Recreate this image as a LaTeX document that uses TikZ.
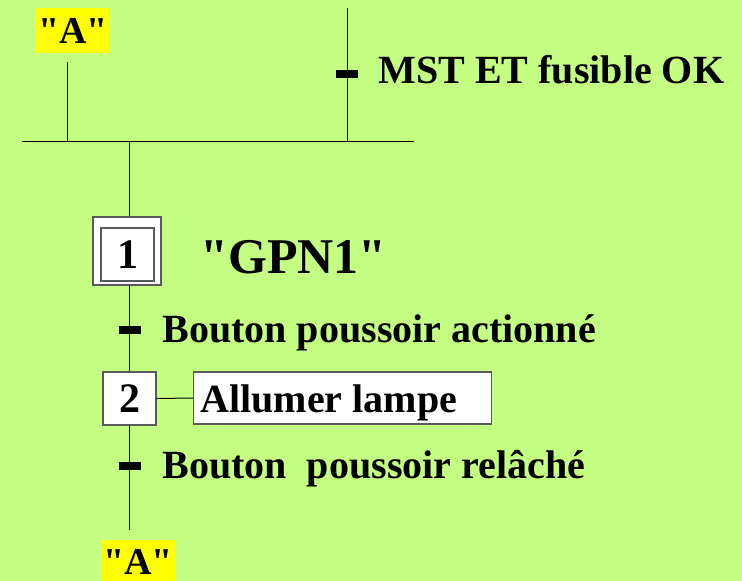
\documentclass[tikz,border=0pt]{standalone}
\usepackage{fontspec}
\setmainfont{Liberation Serif}
\usetikzlibrary{positioning}
\definecolor{grafbg}{HTML}{C4FF84}
\definecolor{boxline}{HTML}{5A5A5A}
\definecolor{repyellow}{HTML}{FFFF00}

\begin{document}
\begin{tikzpicture}[x=1pt, y=-1pt, line width=1pt,
    font=\bfseries\fontsize{40}{48}\selectfont,
    stepbox/.style={draw=boxline, fill=white, line width=1.2pt, minimum size=53pt, inner sep=0pt, font=\bfseries\fontsize{42}{48}\selectfont},
    initstep/.style={draw=boxline, fill=white, line width=1.4pt, minimum size=68pt, inner sep=0pt},
    actionbox/.style={draw=boxline, fill=white, line width=1.2pt, minimum height=52pt, text width=284pt, align=left, inner xsep=7pt, inner ysep=0pt},
    recept/.style={fill=black, minimum width=22pt, minimum height=8pt, inner sep=0pt},
    repbox/.style={fill=repyellow, minimum width=74pt, minimum height=45pt, inner sep=0pt, font=\bfseries\fontsize{38}{44}\selectfont},
    cond/.style={anchor=base west, inner sep=0pt}]
  \fill[grafbg] (0,0) rectangle (742,581);
  \useasboundingbox (0,0) rectangle (742,581);

  % convergence en OU
  \node[repbox] (Atop) at (73,30.5) {\textquotedbl A\textquotedbl};
  \coordinate (Aout) at (67,62);
  \coordinate (Ajoin) at (67,141);
  \draw (Aout) -- (Ajoin);
  \coordinate (MSTin) at (347,8);
  \coordinate (MSTjoin) at (347,141);
  \draw (MSTin) -- (MSTjoin);
  \node[recept] (t0) at (347,74) {};
  \node[cond] (c0) at (378,83) {MST ET fusible OK};
  \coordinate (syncL) at (22,141);
  \coordinate (syncR) at (414,141);
  \draw (syncL) -- (syncR);
  \coordinate (syncOut) at (129,141);

  % etapes
  \node[initstep] (s1) at (127,251) {};
  \node[stepbox, yshift=-3pt] (s1in) at (127.5,251.5) {1};
  \node[cond, font=\bfseries\fontsize{50}{56}\selectfont] (g1) at (200,273) {\textquotedbl GPN1\textquotedbl};
  \node[stepbox] (s2) at (129.5,398.5) {2};
  \node[actionbox, anchor=west] (act2) at (193,398) {};
  \node[cond] (a2) at (200,412) {Allumer lampe};
  \coordinate (Aend) at (129.5,530);
  \node[repbox] (Abot) at (138,562) {\textquotedbl A\textquotedbl};

  \draw (syncOut) -- (s1.north -| syncOut);
  \draw (s1.south -| s2) -- (s2.north);
  \draw (s2.east) -- (act2.west);
  \draw (s2.south) -- (Aend);

  % transitions
  \foreach \n/\y/\txt in {1/330/Bouton poussoir actionné, 2/466/Bouton\ \ poussoir relâché} {
    \node[recept] (t\n) at (129.5,\y) {};
    \node[cond] (c\n) at (162,\y+12) {\txt};
  }
\end{tikzpicture}
\end{document}
